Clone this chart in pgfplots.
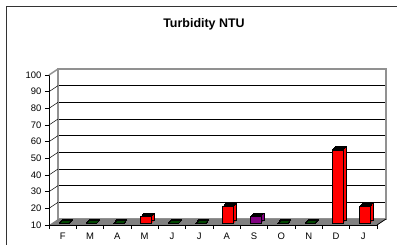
\documentclass[border=0pt]{standalone}
\usepackage{pgfplots}
\usepackage{pgfplotstable}
\pgfplotsset{compat=1.18}
\usepackage{fontspec}
\setmainfont{Liberation Sans}
\definecolor{flatgreen}{RGB}{0,70,0}
\definecolor{barpurple}{RGB}{128,0,128}
\definecolor{floorgray}{RGB}{128,128,128}
\definecolor{wallgray}{RGB}{145,145,145}

\pgfplotstableread{
x y
3.5 14
6.5 20
10.5 54
11.5 20
}\redbars
\pgfplotstableread{
x y
7.5 14
}\purplebars
\pgfplotstableread{
x y
0.5 10
1.5 10
2.5 10
4.5 10
5.5 10
8.5 10
9.5 10
}\flatbars

\begin{document}
\begin{tikzpicture}
\useasboundingbox (0,0) rectangle (397bp,245bp);
\draw[black!80, line width=0.8bp] (6.5bp,-10bp) rectangle (410bp,238.5bp);
\node[font=\fontsize{12.5}{15}\selectfont\bfseries, anchor=base] at (204bp,217.5bp) {Turbidity NTU};

% back wall
\begin{axis}[
  name=back, at={(58bp,26bp)}, anchor=south west,
  scale only axis, width=328bp, height=150bp,
  xmin=0, xmax=12, ymin=10, ymax=100,
  ytick={10,20,...,100}, xtick=\empty, yticklabels={},
  major tick length=0pt,
  ymajorgrids, grid style={black, line width=0.6bp},
  axis line style={wallgray, line width=1.5bp},
  clip=false,
]
\addplot[draw=none] coordinates {(0,10)};
\fill[floorgray] (axis cs:0,10) -- (axis cs:12,10) -- ([shift={(-9bp,-6bp)}]axis cs:12,10) -- ([shift={(-9bp,-6bp)}]axis cs:0,10) -- cycle;
\draw[black, line width=0.8bp] (axis cs:12,10) -- ([shift={(-9bp,-6bp)}]axis cs:12,10);
\end{axis}

% bars
\begin{axis}[
  at={(49bp,20bp)}, anchor=south west,
  scale only axis, width=328bp, height=150bp,
  xmin=0, xmax=12, ymin=0, ymax=90,
  hide axis, clip=false,
  y filter/.expression={y-10},
]
% extrusion
\pgfplotsinvokeforeach{7,6,5,4,3,2,1}{
  \addplot[ybar, bar shift=0pt, bar width=11bp, fill=red, draw=none,
    xshift={1.5bp+#1*0.43bp}, yshift={1.5bp+#1*0.5bp}] table[x=x,y=y] {\redbars};
  \addplot[ybar, bar shift=0pt, bar width=11bp, fill=barpurple, draw=none,
    xshift={1.5bp+#1*0.43bp}, yshift={1.5bp+#1*0.5bp}] table[x=x,y=y] {\purplebars};
}
% back faces outline
\addplot[ybar, bar shift=0pt, bar width=11bp, fill=none, draw=black, line width=0.8bp,
    xshift={1.5bp+7*0.43bp}, yshift={1.5bp+7*0.5bp}] table[x=x,y=y] {\redbars};
\addplot[ybar, bar shift=0pt, bar width=11bp, fill=none, draw=black, line width=0.8bp,
    xshift={1.5bp+7*0.43bp}, yshift={1.5bp+7*0.5bp}] table[x=x,y=y] {\purplebars};
% top faces
\pgfplotsinvokeforeach{7,6,5,4,3,2,1,0}{
  \addplot[only marks, mark=-, mark size=5.5bp, mark options={black, line width=1bp},
    xshift={1.5bp+#1*0.43bp}, yshift={1.5bp+#1*0.5bp}] table[x=x,y=y] {\redbars};
  \addplot[only marks, mark=-, mark size=5.5bp, mark options={black, line width=1bp},
    xshift={1.5bp+#1*0.43bp}, yshift={1.5bp+#1*0.5bp}] table[x=x,y=y] {\purplebars};
}
\pgfplotsinvokeforeach{7,6,5,4,3,2,1,0}{
  \addplot[only marks, mark=-, mark size=5.5bp, mark options={black, line width=1.2bp},
    xshift={1.5bp+#1*0.43bp}, yshift={1.5bp+#1*0.5bp}] table[x=x,y=y] {\flatbars};
}
\pgfplotsinvokeforeach{5,4,3,2}{
  \addplot[only marks, mark=-, mark size=4bp, mark options={flatgreen, line width=1bp},
    xshift={1.5bp+#1*0.43bp}, yshift={1.5bp+#1*0.5bp}] table[x=x,y=y] {\flatbars};
}
% front faces
\addplot[ybar, bar shift=0pt, bar width=11bp, fill=red, draw=black, line width=0.8bp,
    xshift=1.5bp, yshift=1.5bp] table[x=x,y=y] {\redbars};
\addplot[ybar, bar shift=0pt, bar width=11bp, fill=barpurple, draw=black, line width=0.8bp,
    xshift=1.5bp, yshift=1.5bp] table[x=x,y=y] {\purplebars};
\end{axis}

% front axis
\begin{axis}[
  name=front, at={(49bp,20bp)}, anchor=south west,
  scale only axis, width=328bp, height=150bp,
  xmin=0, xmax=12, ymin=10, ymax=100,
  axis x line*=bottom, axis y line*=left,
  axis line style={black, line width=0.8bp},
  ytick={10,20,...,100},
  xtick={0.5,1.5,...,11.5},
  xticklabels={F,M,A,M,J,J,A,S,O,N,D,J},
  minor xtick={0,1,...,12},
  tick align=outside,
  major tick length=4bp, minor tick length=4bp,
  major x tick style={draw=none},
  minor x tick style={black, line width=0.6bp},
  major y tick style={black, line width=0.6bp},
  ticklabel style={font=\fontsize{9.5}{11}\selectfont},
  /pgf/number format/assume math mode=true,
  clip=false,
]
\addplot[draw=none] coordinates {(0,10)};
\pgfplotsinvokeforeach{20,30,...,90}{
  \draw[black, line width=0.5bp] (axis cs:0,#1) -- ++(9bp,6bp);
}
\draw[wallgray, line width=1.5bp] (axis cs:0,100) -- ++(9bp,6bp);
\end{axis}
\end{tikzpicture}
\end{document}
